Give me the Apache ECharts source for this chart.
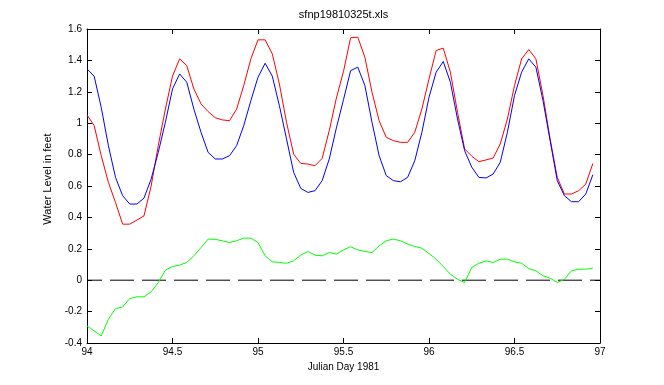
<!DOCTYPE html>
<html>
<head>
<meta charset="utf-8">
<script src="https://cdn.jsdelivr.net/npm/echarts@6/dist/echarts.min.js"></script>
<style>
  html, body { margin: 0; padding: 0; background: #fff; }
  #chart { width: 664px; height: 385px; }
</style>
</head>
<body>
<div id="chart"></div>
<script>
// Hourly samples, Julian Day 94.0 .. 96.9583
const startDay = 94;
const redLevel = [
  1.053, 0.985, 0.793, 0.623, 0.495, 0.357, 0.357, 0.383, 0.41, 0.60, 0.857, 1.09,
  1.30, 1.41, 1.367, 1.218, 1.123, 1.074, 1.035, 1.021, 1.016, 1.09, 1.24, 1.41,
  1.531, 1.531, 1.442, 1.25, 1.006, 0.804, 0.744, 0.74, 0.729, 0.776, 0.953, 1.16,
  1.33, 1.544, 1.548, 1.42, 1.197, 1.016, 0.91, 0.889, 0.878, 0.878, 0.942, 1.09,
  1.282, 1.463, 1.478, 1.325, 1.07, 0.836, 0.79, 0.755, 0.766, 0.778, 0.868, 1.027,
  1.24, 1.41, 1.469, 1.41, 1.176, 0.90, 0.655, 0.549, 0.549, 0.57, 0.612, 0.744
];
const blueLevel = [
  1.346, 1.30, 1.10, 0.857, 0.655, 0.538, 0.485, 0.485, 0.523, 0.644, 0.814, 1.006,
  1.218, 1.314, 1.261, 1.09, 0.942, 0.814, 0.772, 0.772, 0.793, 0.857, 0.985, 1.144,
  1.293, 1.382, 1.30, 1.112, 0.90, 0.687, 0.585, 0.559, 0.57, 0.634, 0.772, 0.97,
  1.15, 1.335, 1.357, 1.24, 1.006, 0.793, 0.666, 0.634, 0.627, 0.655, 0.761, 0.942,
  1.165, 1.325, 1.393, 1.261, 1.027, 0.825, 0.72, 0.655, 0.651, 0.676, 0.751, 0.942,
  1.176, 1.325, 1.41, 1.357, 1.144, 0.889, 0.634, 0.538, 0.50, 0.50, 0.549, 0.672
];
const greenLevel = [
  -0.291, -0.323, -0.355, -0.249, -0.181, -0.17, -0.117, -0.106, -0.106, -0.074, -0.015, 0.064,
  0.087, 0.096, 0.113, 0.155, 0.208, 0.262, 0.26, 0.251, 0.24, 0.251, 0.268, 0.268,
  0.24, 0.155, 0.117, 0.113, 0.108, 0.123, 0.16, 0.183, 0.16, 0.155, 0.177, 0.166,
  0.193, 0.213, 0.193, 0.183, 0.176, 0.219, 0.251, 0.262, 0.251, 0.23, 0.215, 0.204,
  0.17, 0.134, 0.087, 0.038, 0.006, -0.015, 0.081, 0.108, 0.123, 0.113, 0.134, 0.134,
  0.117, 0.108, 0.074, 0.06, 0.028, 0.013, -0.015, 0.006, 0.06, 0.07, 0.07, 0.077
];
const zeroLine = [[94, 0], [97, 0]];
const titleText = 'sfnp19810325t.xls';
const xLabel = 'Julian Day 1981';
const yLabel = 'Water Level in feet';

const julianDay = redLevel.map((_, i) => startDay + i / 24);
const pair = arr => arr.map((v, i) => [julianDay[i], v]);

const FONT = 'Liberation Sans, Arial, sans-serif';
const chart = echarts.init(document.getElementById('chart'), null, { renderer: 'canvas' });

const baseAxisLine = { show: true, onZero: false, lineStyle: { color: '#000', width: 1 } };
const baseTick = { show: true, inside: true, length: 5, lineStyle: { color: '#000' } };

chart.setOption({
  animation: false,
  backgroundColor: '#fff',
  grid: { left: 87, top: 29, width: 513, height: 314, containLabel: false },
  xAxis: [
    {
      type: 'value', min: 94, max: 97, interval: 0.5, position: 'bottom',
      axisLine: baseAxisLine, axisTick: baseTick, splitLine: { show: false },
      axisLabel: { color: '#000', fontFamily: FONT, fontSize: 10, margin: 4 },
      name: xLabel, nameLocation: 'middle', nameGap: 14,
      nameTextStyle: { color: '#000', fontFamily: FONT, fontSize: 10 }
    },
    {
      type: 'value', min: 94, max: 97, interval: 0.5, position: 'top',
      axisLine: baseAxisLine, axisTick: baseTick, splitLine: { show: false },
      axisLabel: { show: false },
      name: titleText, nameLocation: 'middle', nameGap: 9,
      nameTextStyle: { color: '#000', fontFamily: FONT, fontSize: 11 }
    }
  ],
  yAxis: [
    {
      type: 'value', min: -0.4, max: 1.6, interval: 0.2, position: 'left',
      axisLine: baseAxisLine, axisTick: baseTick, splitLine: { show: false },
      axisLabel: { color: '#000', fontFamily: FONT, fontSize: 10, margin: 5 }
    },
    {
      type: 'value', min: -0.4, max: 1.6, interval: 0.2, position: 'right',
      axisLine: baseAxisLine, axisTick: baseTick, splitLine: { show: false },
      axisLabel: { show: false }
    }
  ],
  graphic: [{
    type: 'text', x: 48, y: 179, rotation: Math.PI / 2,
    style: { text: yLabel, fill: '#000', font: '11px ' + FONT, textAlign: 'center', textVerticalAlign: 'middle' }
  }],
  series: [
    { type: 'line', data: pair(redLevel), showSymbol: false, symbol: 'none',
      lineStyle: { color: '#ff0000', width: 1 }, z: 3 },
    { type: 'line', data: pair(blueLevel), showSymbol: false, symbol: 'none',
      lineStyle: { color: '#0000ff', width: 1 }, z: 4 },
    { type: 'line', data: pair(greenLevel), showSymbol: false, symbol: 'none',
      lineStyle: { color: '#00ff00', width: 1 }, z: 3 },
    { type: 'line', data: zeroLine, showSymbol: false, symbol: 'none',
      lineStyle: { color: '#000', width: 1, type: [24, 8], dashOffset: 9 }, z: 2 }
  ]
});
</script>
</body>
</html>
